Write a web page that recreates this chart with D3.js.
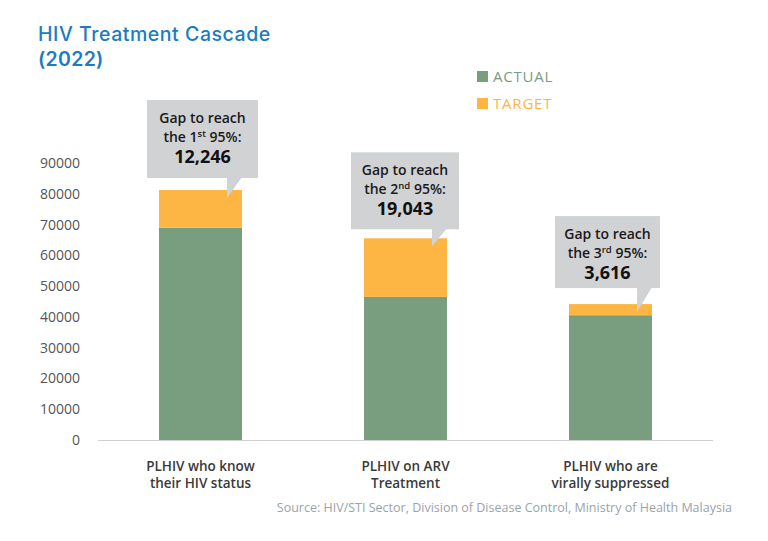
<!DOCTYPE html>
<html><head><meta charset="utf-8">
<script src="https://cdn.jsdelivr.net/npm/d3@7"></script>
<style>body{margin:0;background:#fff;} svg{display:block;font-family:"Open Sans",sans-serif;}</style>
</head><body>
<svg id="c" width="768" height="541"></svg>
<script>
const categories = [["PLHIV who know","their HIV status"],["PLHIV on ARV","Treatment"],["PLHIV who are","virally suppressed"]];
const actualValues = [68979, 46487, 40547];
const gapValues = [12246, 19043, 3616];
const gapLabels = ["12,246","19,043","3,616"];
const ordinals = [["1","st"],["2","nd"],["3","rd"]];
const yTicks = [0,10000,20000,30000,40000,50000,60000,70000,80000,90000];
const seriesNames = ["ACTUAL","TARGET"];
const colors = {ACTUAL:"#789d7f", TARGET:"#fdb544"};

const svg = d3.select("#c");
const x = d3.scaleBand().domain(d3.range(3)).range([98,713]).paddingInner(0.595).paddingOuter(0.2975);
const y = d3.scaleLinear().domain([0,90000]).range([440,163]);

// title
svg.append("text").attr("x",38).attr("y",41).attr("fill","#1a7cc1").attr("font-family","Inter, sans-serif").attr("font-size",19.5).attr("font-weight",500).attr("letter-spacing",0.55).text("HIV Treatment Cascade");
svg.append("text").attr("x",38).attr("y",66).attr("fill","#1a7cc1").attr("font-family","Inter, sans-serif").attr("font-size",19.5).attr("font-weight",600).attr("letter-spacing",0.3).text("(2022)");

// y axis labels
svg.selectAll(".yt").data(yTicks).join("text").attr("x",80).attr("y",d=>y(d)+5)
 .attr("text-anchor","end").attr("font-size",14).attr("fill","#555").text(d=>d);
// baseline
svg.append("line").attr("x1",98).attr("x2",713).attr("y1",y(0)+0.5).attr("y2",y(0)+0.5).attr("stroke","#d0d0d0");

// bars
const g = svg.append("g");
g.selectAll(".a").data(actualValues).join("rect").attr("x",(d,i)=>x(i)).attr("width",x.bandwidth())
 .attr("y",d=>y(d)).attr("height",d=>y(0)-y(d)).attr("fill",colors.ACTUAL);
g.selectAll(".t").data(gapValues).join("rect").attr("x",(d,i)=>x(i)).attr("width",x.bandwidth())
 .attr("y",(d,i)=>y(actualValues[i]+d)).attr("height",(d,i)=>y(actualValues[i])-y(actualValues[i]+d)).attr("fill",colors.TARGET);

// callouts
const boxW=[111,108,105], boxH=[78,77,72], boxDx=[2,-0.5,-3], boxGap=[12,9,16];
gapValues.forEach((gv,i)=>{
  const top = y(actualValues[i]+gv);
  const cx = x(i)+x.bandwidth()/2 + boxDx[i];
  const bottom = top - boxGap[i];
  const left = cx - boxW[i]/2;
  const tipX = x(i)+x.bandwidth()-15;
  const cg = svg.append("g");
  cg.append("rect").attr("x",left).attr("y",bottom-boxH[i]).attr("width",boxW[i]).attr("height",boxH[i]).attr("fill","#d1d2d4");
  cg.append("path").attr("d",`M${tipX},${bottom-1}L${tipX+15},${bottom-1}L${tipX},${top+8}Z`).attr("fill","#d1d2d4");
  const ty = bottom-boxH[i];
  cg.append("text").attr("x",cx).attr("y",ty+23).attr("text-anchor","middle").attr("font-size",14).attr("font-weight",600).attr("fill","#1a1a1a").text("Gap to reach");
  const t2 = cg.append("text").attr("x",cx).attr("y",ty+42).attr("text-anchor","middle").attr("font-size",14).attr("font-weight",600).attr("fill","#1a1a1a");
  t2.append("tspan").text("the "+ordinals[i][0]);
  t2.append("tspan").attr("font-size",9.5).attr("dy",-5).text(ordinals[i][1]);
  t2.append("tspan").attr("dy",5).text(" 95%:");
  cg.append("text").attr("x",cx).attr("y",ty+63).attr("text-anchor","middle").attr("font-size",18).attr("font-weight",700).attr("fill","#111").text(gapLabels[i]);
});

// x labels
categories.forEach((c,i)=>{
  const t = svg.append("text").attr("x",x(i)+x.bandwidth()/2).attr("text-anchor","middle").attr("font-size",13.5).attr("font-weight",600).attr("fill","#3a3a3a");
  c.forEach((line,j)=>t.append("tspan").attr("x",x(i)+x.bandwidth()/2).attr("y",471+j*17).text(line));
});

// legend
seriesNames.forEach((s,i)=>{
  svg.append("rect").attr("x",477).attr("y",71+i*27).attr("width",11).attr("height",11).attr("fill",colors[s]);
  svg.append("text").attr("x",493).attr("y",82+i*27).attr("font-size",15).attr("font-weight",500).attr("letter-spacing",0.8).attr("fill",colors[s]).text(s);
});

// source
svg.append("text").attr("x",732).attr("y",512).attr("text-anchor","end").attr("font-size",12.5).attr("fill","#9aa3ab")
 .text("Source: HIV/STI Sector, Division of Disease Control, Ministry of Health Malaysia");
</script>
</body></html>
